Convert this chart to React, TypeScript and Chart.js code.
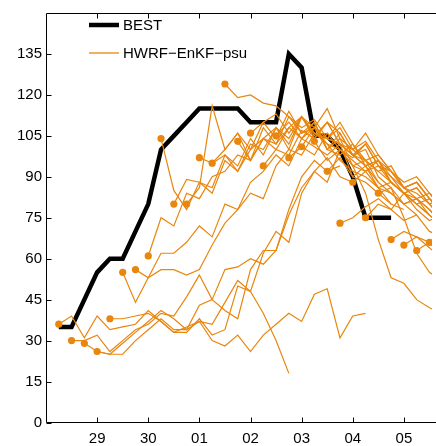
import React, { useEffect, useRef } from 'react';
import { Chart, registerables } from 'chart.js';

Chart.register(...registerables);

// Time axis: days after 28th 00 UTC (1 = day 29, 2 = day 30, 3 = 01, ...)
const X_TICK_POS = [1, 2, 3, 4, 5, 6, 7];
const X_TICK_LABELS = ['29', '30', '01', '02', '03', '04', '05'];
const Y_TICKS = [0, 15, 30, 45, 60, 75, 90, 105, 120, 135];
const X_MIN = 0;
const X_MAX = 7.55;
const Y_MIN = 0;
const Y_MAX = 150;
const STEP = 0.25; // 6-hourly

const BEST_LABEL = 'BEST';
const ENS_LABEL = 'HWRF\u2212EnKF\u2212psu';

const BEST_START = 0.25;
const BEST_VALUES = [35, 35, 45, 55, 60, 60, 70, 80, 100, 105, 110, 115, 115, 115, 115, 110, 110, 110, 135, 130, 105, 105, 100, 90, 75, 75, 75];

// forecast initial times (days after 28th 00 UTC)
const FC_STARTS = [0.25, 0.5, 0.75, 1.0, 1.25, 1.5, 1.75, 2.0, 2.25, 2.5, 2.75, 3.0, 3.25, 3.5, 3.75, 4.0, 4.25, 4.5, 4.75, 5.0, 5.25, 5.5, 5.75, 6.0, 6.25, 6.5, 6.75, 7.0, 7.25, 7.5];

const FC_00 = [36, 39, 31, 39, 34, 35, 36, 41, 37, 33, 33, 38, 32, 34, 50, 48, 40, 30, 18];
const FC_01 = [30, 30, 32, 26, 30, 34, 36, 40, 39, 46, 54, 45, 41, 38, 56, 63, 63, 78, 90, 96, 92, 94];
const FC_02 = [29, 26, 25, 29, 33, 37, 41, 38, 34, 43, 45, 56, 57, 60, 58, 63, 76, 86, 92, 97, 90, 88];
const FC_03 = [26, 25, 25, 30, 34, 38, 34, 34, 37, 30, 28, 32, 26, 32, 36, 40, 37, 47, 49, 31, 39, 40];
const FC_04 = [38, 38, 39, 40, 37, 33, 35, 37, 36, 44, 52, 48, 62, 70, 66, 84, 92, 88, 100, 94, 96, 88];
const FC_05 = [55, 44, 53, 62, 62, 66, 72, 68, 80, 78, 88, 92, 98, 94, 104, 101, 98, 102, 90, 88, 84, 80];
const FC_06 = [56, 53, 56, 56, 54, 56, 65, 73, 78, 84, 82, 94, 100, 98, 106, 102, 96, 92, 90, 86, 80, 78];
const FC_07 = [61, 75, 72, 84, 82, 90, 92, 98, 96, 104, 102, 108, 104, 110, 100, 98, 102, 94, 88, 84, 80, 76];
const FC_08 = [104, 85, 78, 88, 84, 96, 92, 100, 104, 108, 102, 112, 106, 104, 108, 100, 96, 92, 88, 84, 80, 76];
const FC_09 = [80, 89, 88, 86, 98, 94, 104, 98, 108, 100, 112, 106, 104, 102, 98, 94, 96, 88, 84, 82, 78, 74];
const FC_10 = [80, 86, 116, 100, 106, 100, 110, 104, 114, 106, 108, 102, 100, 96, 92, 94, 88, 84, 86, 80, 74, 72];
const FC_11 = [97, 95, 100, 106, 96, 108, 102, 112, 106, 110, 100, 104, 94, 84, 67, 53, 51, 45, 42, 40];
const FC_12 = [95, 98, 92, 102, 100, 108, 104, 112, 104, 110, 102, 98, 100, 90, 86, 75, 62, 55, 52];
const FC_13 = [124, 119, 120, 117, 116, 112, 108, 111, 104, 102, 98, 94, 96, 90, 86, 82, 84, 80, 76, 78];
const FC_14 = [103, 96, 104, 100, 108, 112, 105, 110, 106, 98, 102, 94, 92, 88, 90, 84, 78, 80, 74, 76];
const FC_15 = [106, 110, 113, 106, 112, 108, 115, 104, 100, 103, 96, 92, 86, 88, 82, 78, 80, 72, 74];
const FC_16 = [94, 100, 98, 107, 104, 110, 102, 100, 106, 98, 92, 86, 88, 82, 78, 80, 74, 76];
const FC_17 = [105, 110, 104, 108, 100, 106, 98, 96, 92, 94, 86, 84, 80, 82, 76, 72, 74];
const FC_18 = [97, 101, 108, 104, 110, 102, 96, 98, 92, 86, 88, 82, 78, 80, 74, 76];
const FC_19 = [101, 98, 106, 100, 97, 102, 94, 90, 84, 86, 80, 76, 78, 74, 76];
const FC_20 = [103, 96, 100, 94, 92, 96, 88, 84, 80, 82, 76, 72, 74, 70];
const FC_21 = [92, 97, 90, 94, 86, 88, 84, 78, 74, 76, 70, 72, 68];
const FC_22 = [73, 75, 79, 82, 78, 84, 80, 76, 72, 74, 70, 68];
const FC_23 = [88, 92, 86, 84, 80, 82, 76, 72, 74, 70, 72];
const FC_24 = [75, 80, 78, 74, 76, 70, 68, 72, 66, 68];
const FC_25 = [84, 86, 80, 82, 78, 72, 74, 70, 72];
const FC_26 = [67, 70, 68, 66, 70, 64, 66, 62];
const FC_27 = [65, 68, 64, 60, 62, 58, 60];
const FC_28 = [63, 66, 60, 62, 58, 60];
const FC_29 = [66, 64, 68, 62, 64];

const FC_VALUES = [FC_00, FC_01, FC_02, FC_03, FC_04, FC_05, FC_06, FC_07, FC_08, FC_09,
  FC_10, FC_11, FC_12, FC_13, FC_14, FC_15, FC_16, FC_17, FC_18, FC_19,
  FC_20, FC_21, FC_22, FC_23, FC_24, FC_25, FC_26, FC_27, FC_28, FC_29];

const ORANGE = 'rgb(232,134,14)';
const FONT_FAMILY = "'Liberation Sans', Arial, Helvetica, sans-serif";

function toPoints(start: number, values: number[]) {
  return values.map((v, i) => ({ x: start + i * STEP, y: v }));
}

const boxPlugin = {
  id: 'matlabBox',
  afterDraw(chart: any) {
    const { ctx, chartArea, scales } = chart;
    const { left, top, right, bottom } = chartArea;
    const L = Math.round(left) + 0.5;
    const T = Math.round(top) + 0.5;
    const B = Math.round(bottom) - 0.5;
    const R = right + 5;
    ctx.save();
    ctx.strokeStyle = '#000';
    ctx.lineWidth = 1;
    ctx.beginPath();
    ctx.moveTo(R, T);
    ctx.lineTo(L, T);
    ctx.lineTo(L, B);
    ctx.lineTo(R, B);
    X_TICK_POS.forEach((p) => {
      const px = Math.round(scales.x.getPixelForValue(p)) + 0.5;
      ctx.moveTo(px, B);
      ctx.lineTo(px, B - 5);
      ctx.moveTo(px, T);
      ctx.lineTo(px, T + 5);
    });
    Y_TICKS.forEach((v) => {
      const py = Math.round(scales.y.getPixelForValue(v)) + 0.5;
      ctx.moveTo(L, py);
      ctx.lineTo(L + 5, py);
    });
    ctx.stroke();

    const items = [
      { label: chart.data.datasets[chart.data.datasets.length - 1].label, color: '#000', width: 4.5, y: 25 },
      { label: chart.data.datasets[0].label, color: ORANGE, width: 1.3, y: 53 },
    ];
    ctx.font = `15px ${FONT_FAMILY}`;
    ctx.textBaseline = 'middle';
    ctx.textAlign = 'left';
    items.forEach((it) => {
      ctx.strokeStyle = it.color;
      ctx.lineWidth = it.width;
      ctx.beginPath();
      ctx.moveTo(89, it.y);
      ctx.lineTo(119, it.y);
      ctx.stroke();
      ctx.fillStyle = '#000';
      ctx.fillText(it.label, 123, it.y + 1);
    });
    ctx.restore();
  },
};

export default function App() {
  const canvasRef = useRef<HTMLCanvasElement | null>(null);

  useEffect(() => {
    const canvas = canvasRef.current;
    if (!canvas) return;

    const ensembleSets = FC_VALUES.map((vals, i) => ({
      label: ENS_LABEL,
      data: toPoints(FC_STARTS[i], vals),
      borderColor: ORANGE,
      backgroundColor: ORANGE,
      borderWidth: 1.2,
      pointRadius: (c: any) => (c.dataIndex === 0 ? 3.6 : 0),
      pointBorderWidth: 0,
      pointBackgroundColor: ORANGE,
      tension: 0,
      order: 0,
    }));

    const bestSet = {
      label: BEST_LABEL,
      data: toPoints(BEST_START, BEST_VALUES),
      borderColor: '#000',
      backgroundColor: '#000',
      borderWidth: 4.5,
      pointRadius: 0,
      tension: 0,
      order: 1,
    };

    const chart = new Chart(canvas, {
      type: 'line',
      data: { datasets: [...ensembleSets, bestSet] as any },
      options: {
        animation: false,
        responsive: false,
        maintainAspectRatio: false,
        layout: { padding: { top: 7, left: 0, right: 0, bottom: 0 } },
        plugins: {
          legend: { display: false },
          tooltip: { enabled: false },
        },
        scales: {
          x: {
            type: 'linear',
            min: X_MIN,
            max: X_MAX,
            grid: { display: false, drawTicks: false },
            border: { display: false },
            afterBuildTicks: (scale: any) => {
              scale.ticks = X_TICK_POS.map((v) => ({ value: v }));
            },
            afterFit: (scale: any) => {
              scale.height = 23.5;
            },
            ticks: {
              autoSkip: false,
              maxRotation: 0,
              padding: 7,
              color: '#000',
              font: { family: FONT_FAMILY, size: 15 },
              callback: (v: any) => {
                const idx = X_TICK_POS.indexOf(Number(v));
                return idx >= 0 ? X_TICK_LABELS[idx] : '';
              },
            },
          },
          y: {
            type: 'linear',
            min: Y_MIN,
            max: Y_MAX,
            grid: { display: false, drawTicks: false },
            border: { display: false },
            afterBuildTicks: (scale: any) => {
              scale.ticks = Y_TICKS.map((v) => ({ value: v }));
            },
            afterFit: (scale: any) => {
              scale.width = 46;
            },
            ticks: {
              autoSkip: false,
              padding: 4,
              color: '#000',
              font: { family: FONT_FAMILY, size: 15 },
              callback: (v: any) => String(v),
            },
          },
        },
      },
      plugins: [boxPlugin],
    });

    return () => chart.destroy();
  }, []);

  return (
    <div style={{ position: 'fixed', left: 0, top: 0, width: 436, height: 446, background: '#fff', overflow: 'hidden' }}>
      <canvas ref={canvasRef} width={436} height={446} style={{ display: 'block' }} />
    </div>
  );
}
